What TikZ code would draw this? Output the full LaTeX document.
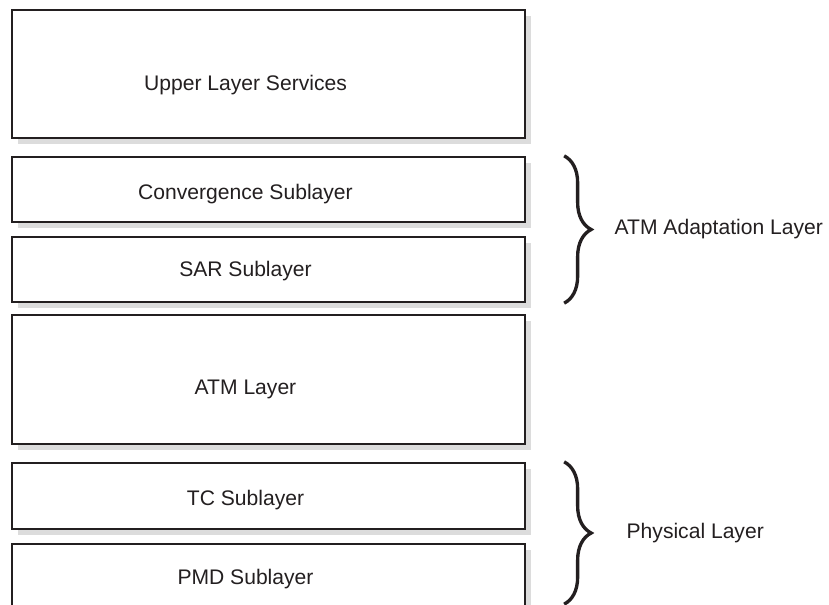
\documentclass[tikz,border=0pt]{standalone}
\usepackage{fontspec}
\setmainfont{Liberation Sans}
\usetikzlibrary{positioning,shadows,decorations.pathreplacing}
\definecolor{LayerBorder}{HTML}{231F20}
\definecolor{LayerShadow}{HTML}{DCDCDC}
\tikzset{
    % Base layer box
    layerbox/.style={
        draw=LayerBorder,
        fill=white,
        line width=1.3pt,
        minimum width=10.26cm,
        inner sep=0pt,
        drop shadow={shadow xshift=0.12cm, shadow yshift=-0.12cm, fill=LayerShadow, opacity=1}
    },
    % Full layer
    tallbox/.style={
        layerbox,
        minimum height=2.56cm
    },
    % Sublayer
    thinbox/.style={
        layerbox,
        minimum height=1.3cm
    },
    % Text inside a box
    layertext/.style={
        xshift=-0.46cm,
        font=\fontsize{12}{14}\selectfont,
        text=LayerBorder
    },
    % Brace grouping sublayers
    groupbrace/.style={
        decorate,
        decoration={brace, amplitude=0.54cm},
        line width=1.9pt,
        draw=LayerBorder
    },
    % Group label
    grouptext/.style={
        font=\fontsize{12}{14}\selectfont,
        text=LayerBorder
    }
}
\begin{document}
\begin{tikzpicture}
    \useasboundingbox (0,0) rectangle (16.58,-12.08);

    \node[tallbox, label={[layertext, yshift=-0.22cm]center:Upper Layer Services}] (upper) at (5.37,-1.48) {};
    \node[thinbox, label={[layertext, yshift=-0.09cm]center:Convergence Sublayer}] (conv) at (5.37,-3.79) {};
    \node[thinbox, label={[layertext, yshift=-0.04cm]center:SAR Sublayer}] (sar) at (5.37,-5.39) {};
    \node[tallbox, minimum height=2.58cm, label={[layertext, yshift=-0.2cm]center:ATM Layer}] (atm) at (5.37,-7.59) {};
    \node[thinbox, minimum height=1.32cm, label={[layertext, yshift=-0.09cm]center:TC Sublayer}] (tc) at (5.37,-9.92) {};
    \node[thinbox, label={[layertext, yshift=-0.06cm]center:PMD Sublayer}] (pmd) at (5.37,-11.53) {};

    \draw[groupbrace] ([xshift=0.76cm]conv.north east) -- node[grouptext, right=0.86cm] (aal) {ATM Adaptation Layer} ([xshift=0.76cm]sar.south east);
    \draw[groupbrace] ([xshift=0.76cm]tc.north east) -- node[grouptext, right=1.1cm] (phy) {Physical Layer} ([xshift=0.76cm, yshift=0.12cm]pmd.south east);
\end{tikzpicture}
\end{document}
